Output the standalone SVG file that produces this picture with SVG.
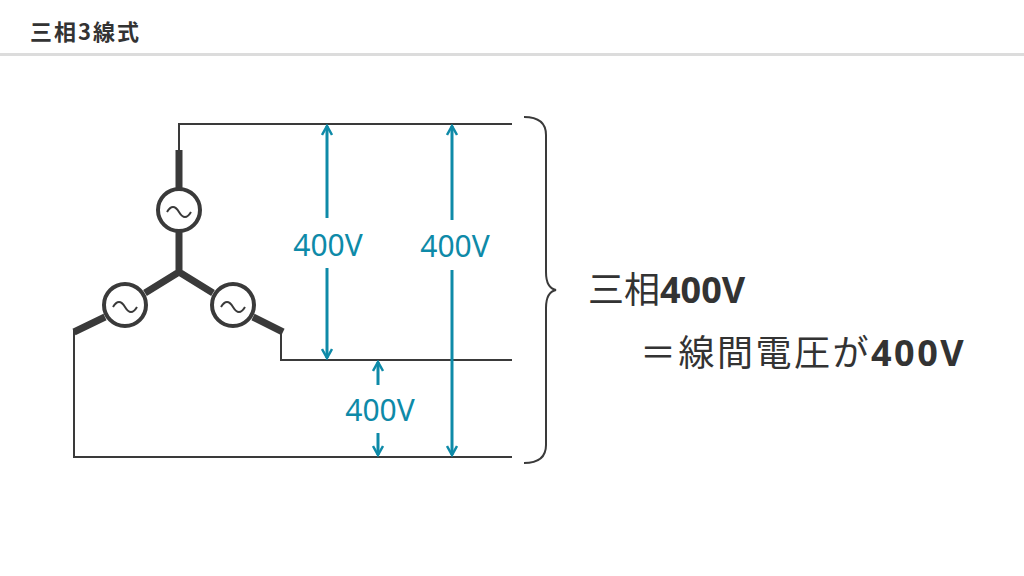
<svg xmlns="http://www.w3.org/2000/svg" width="1024" height="576" viewBox="0 0 1024 576">
<style>
.w{stroke:#3a3a3a;stroke-width:2;fill:none}
.t{stroke:#3a3a3a;stroke-width:7;fill:none}
.c{stroke:#3a3a3a;stroke-width:4;fill:#fff}
.a{stroke:#0e8aa8;stroke-width:3;fill:none}
.v{fill:#0e8aa8;font-family:"Noto Sans","Liberation Sans",sans-serif;font-size:30px;text-anchor:middle}
.k{fill:#333;font-family:"Noto Sans CJK JP","Noto Sans",sans-serif}
</style>
<defs>
<marker id="ah" viewBox="0 0 12 12" refX="10" refY="6" markerWidth="12" markerHeight="12" markerUnits="userSpaceOnUse" orient="auto"><path d="M1,1 L10,6 L1,11" fill="none" stroke="#0e8aa8" stroke-width="2.5"/></marker>
</defs>
<rect width="1024" height="576" fill="#fff"/>
<text class="k" x="30" y="40" font-size="22" font-weight="bold" letter-spacing="2">三相3線式</text>
<rect x="0" y="53" width="1024" height="3" fill="#dcdcdc"/>
<g id="wires">
<path class="w" d="M179,150 V124 H512"/>
<path class="w" d="M281,330 V360 H512"/>
<path class="w" d="M74,330 V457 H512"/>
<path class="t" d="M179,150 V188 M179,232 V272 L145,293 M179,272 L213,293 M105,317 L74,332 M253,317 L283,332"/>
</g>
<g id="src-top"><circle class="c" cx="179" cy="210" r="21"/><path class="w" stroke-width="2.5" d="M167,212 q6,-10 12,0 t12,0"/></g>
<g id="src-left"><circle class="c" cx="125" cy="305" r="21"/><path class="w" stroke-width="2.5" d="M113,307 q6,-10 12,0 t12,0"/></g>
<g id="src-right"><circle class="c" cx="233" cy="305" r="21"/><path class="w" stroke-width="2.5" d="M221,307 q6,-10 12,0 t12,0"/></g>
<g id="connectors">
<line class="a" x1="327" y1="218" x2="327" y2="126" marker-end="url(#ah)"/>
<line class="a" x1="327" y1="268" x2="327" y2="358" marker-end="url(#ah)"/>
<line class="a" x1="452" y1="220" x2="452" y2="126" marker-end="url(#ah)"/>
<line class="a" x1="452" y1="270" x2="452" y2="455" marker-end="url(#ah)"/>
<line class="a" x1="378" y1="385" x2="378" y2="362" marker-end="url(#ah)"/>
<line class="a" x1="378" y1="433" x2="378" y2="455" marker-end="url(#ah)"/>
</g>
<text class="v" x="328" y="256">400V</text>
<text class="v" x="455" y="257">400V</text>
<text class="v" x="380" y="421">400V</text>
<path id="brace" class="w" stroke-width="2.5" d="M524,117 Q546,117 546,135 V272 Q546,288 556,290 Q546,292 546,308 V445 Q546,463 524,463"/>
<text class="k" x="588" y="303" font-size="36">三相<tspan font-weight="bold" font-family="'Noto Sans',sans-serif">400V</tspan></text>
<text class="k" x="640" y="366" font-size="36" letter-spacing="2.5">＝線間電圧が<tspan font-weight="bold" font-family="'Noto Sans',sans-serif">400V</tspan></text>
</svg>
